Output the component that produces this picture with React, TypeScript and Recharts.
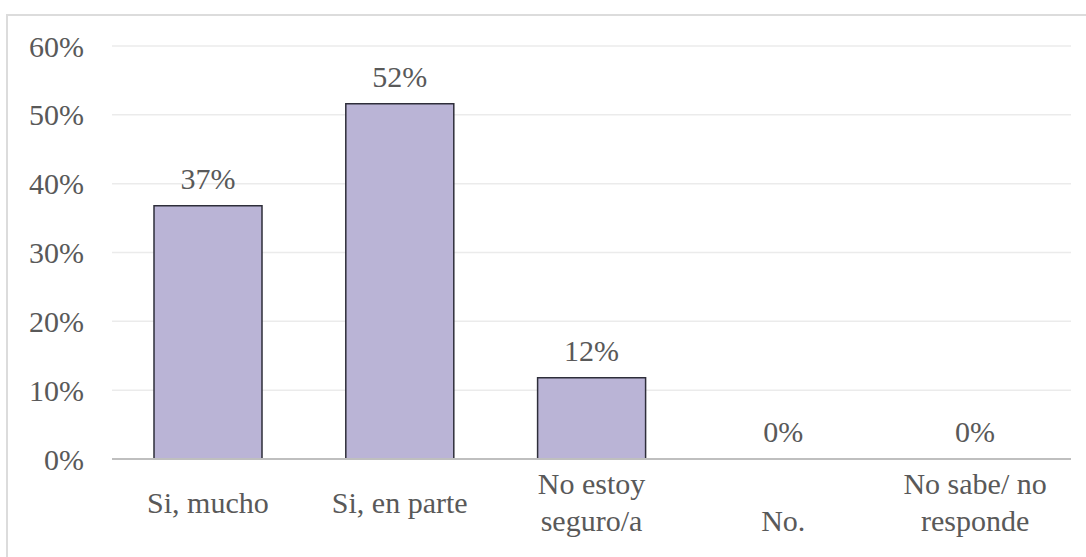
import React from "react";
import { ComposedChart, Bar, Line, XAxis, YAxis, CartesianGrid, LabelList } from "recharts";

const categories = ["Si, mucho", "Si, en parte", "No estoy\nseguro/a", "\nNo.", "No sabe/ no\nresponde"];
const shares = [36.8, 51.6, 11.8, 0, 0];
const yTicks = [0, 10, 20, 30, 40, 50, 60];

const data = categories.map((name, i) => ({ name, value: shares[i] }));

const font = "'Liberation Serif', 'Times New Roman', serif";
const textColor = "#595959";

// force the serif face even if some page stylesheet overrides svg text
const forceSerif = (el: any) => {
  if (el) el.style.setProperty("font-family", font, "important");
};

function XTick(props: any) {
  const { x, payload } = props;
  const lines = String(payload.value).split("\n");
  const lineH = 37;
  const center = 502;
  const start = center - ((lines.length - 1) * lineH) / 2;
  return (
    <g>
      {lines.map((ln, i) => (
        <text
          key={i}
          ref={forceSerif}
          x={x}
          y={start + i * lineH}
          textAnchor="middle"
          dominantBaseline="central"
          fontFamily={font}
          fontSize={30}
          fill={textColor}
        >
          {ln}
        </text>
      ))}
    </g>
  );
}

function YTick(props: any) {
  const { y, payload } = props;
  return (
    <text
      ref={forceSerif}
      x={84}
      y={y}
      textAnchor="end"
      dominantBaseline="central"
      fontFamily={font}
      fontSize={30}
      fill={textColor}
    >
      {payload.value}%
    </text>
  );
}

function ValueLabel(props: any) {
  const { x, y, value } = props;
  return (
    <text ref={forceSerif} x={x} y={Number(y) - 17} textAnchor="middle" fontFamily={font} fontSize={30} fill={textColor}>
      {Math.round(Number(value))}%
    </text>
  );
}

export default function App() {
  return (
    <div
      id="chart-wrap"
      style={{ position: "absolute", left: 0, top: 0, width: 1086, height: 557, overflow: "hidden", background: "#fff" }}
    >
      <style>{`html body #root div#chart-wrap svg text, html body #root div#chart-wrap svg tspan { font-family: 'Liberation Serif', 'Times New Roman', serif !important; }`}</style>
      <div
        style={{
          position: "absolute",
          left: 6,
          top: 14,
          width: 1200,
          height: 700,
          border: "2px solid #DCDCDC",
        }}
      />
      <ComposedChart
        width={1086}
        height={557}
        data={data}
        margin={{ top: 46, right: 15, bottom: 0, left: 0 }}
        style={{ position: "absolute", left: 0, top: 0 }}
      >
        <CartesianGrid vertical={false} stroke="#EBEBEB" strokeWidth={1.5} />
        <XAxis
          dataKey="name"
          height={98}
          axisLine={{ stroke: "#BFBFBF", strokeWidth: 2 }}
          tickLine={false}
          tick={<XTick />}
          interval={0}
        />
        <YAxis
          width={112}
          domain={[0, 60]}
          ticks={yTicks}
          axisLine={false}
          tickLine={false}
          tick={<YTick />}
        />
        <Bar dataKey="value" fill="#BAB4D6" stroke="#2E2E3A" strokeWidth={1.5} barSize={108} isAnimationActive={false} />
        <Line dataKey="value" stroke="none" dot={false} activeDot={false} legendType="none" isAnimationActive={false}>
          <LabelList dataKey="value" content={<ValueLabel />} />
        </Line>
      </ComposedChart>
    </div>
  );
}
